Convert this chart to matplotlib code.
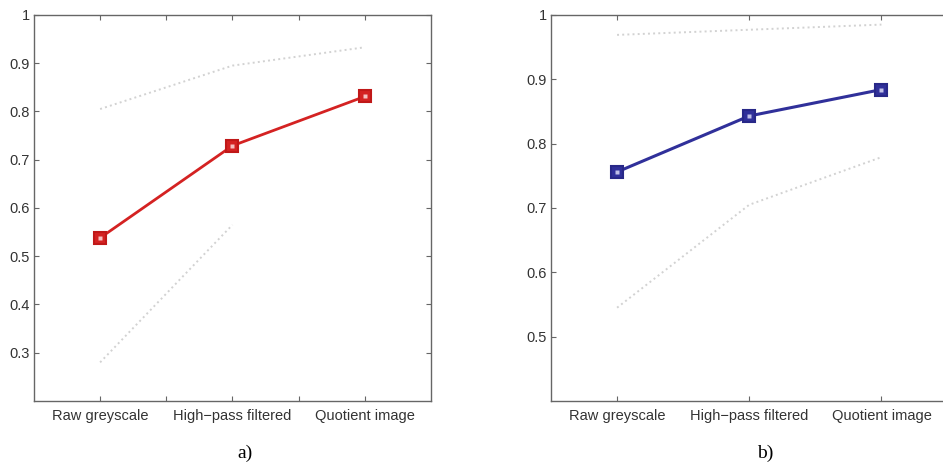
import numpy as np
import matplotlib
matplotlib.use("Agg")
import matplotlib.pyplot as plt
from matplotlib.ticker import FixedLocator

# categories and values
categories = ["Raw greyscale", "High\u2212pass filtered", "Quotient image"]

main_a = [0.538, 0.729, 0.831]
upper_a = [0.805, 0.895, 0.933]
lower_a = [0.28, 0.565, np.nan]

main_b = [0.756, 0.843, 0.884]
upper_b = [0.969, 0.977, 0.985]
lower_b = [0.545, 0.705, 0.779]

yticks_a = [0.3, 0.4, 0.5, 0.6, 0.7, 0.8, 0.9, 1.0]
yticks_b = [0.5, 0.6, 0.7, 0.8, 0.9, 1.0]

plt.rcParams["font.family"] = ["Liberation Sans", "DejaVu Sans"]

fig = plt.figure(figsize=(9.43, 4.76), dpi=100)
ax_a = fig.add_axes([0.036, 0.1576, 0.421, 0.811])
ax_b = fig.add_axes([0.5843, 0.1576, 0.4205, 0.811])

x = np.arange(1, len(categories) + 1)


def style_axes(ax, yticks, ylim, half_ticks):
    ax.set_xlim(0.5, 3.5)
    ax.set_ylim(*ylim)
    ax.set_xticks(x)
    ax.set_xticklabels(categories)
    if half_ticks:
        ax.xaxis.set_minor_locator(FixedLocator([1.5, 2.5]))
    ax.set_yticks(yticks)
    ax.set_yticklabels(["1" if v == 1.0 else f"{v:.1f}" for v in yticks])
    for s in ax.spines.values():
        s.set_color("#666666")
        s.set_linewidth(1.0)
    ax.tick_params(which="both", direction="in", top=True, right=True,
                   length=3.5, width=0.8, color="#666666",
                   labelsize=10.5, labelcolor="#333333")
    ax.tick_params(axis="x", pad=6)
    ax.tick_params(axis="y", pad=3)


faint = "#d2d2d2"

# panel a
ax_a.plot(x, upper_a, linestyle=":", color=faint, lw=1.4)
ax_a.plot(x, lower_a, linestyle=":", color=faint, lw=1.4)
ax_a.plot(x, main_a, color="#d42222", lw=2.0, marker="s", ms=8,
          mfc="#d42222", mec="#c01818", mew=1.5, zorder=3)
ax_a.plot(x, main_a, linestyle="none", marker="s", ms=2.5,
          mfc="#f4c0c0", mec="none", zorder=4)
style_axes(ax_a, yticks_a, (0.2, 1.0), True)

# panel b
ax_b.plot(x, upper_b, linestyle=":", color=faint, lw=1.4)
ax_b.plot(x, lower_b, linestyle=":", color=faint, lw=1.4)
ax_b.plot(x, main_b, color="#30309a", lw=2.2, marker="s", ms=8,
          mfc="#30309a", mec="#282888", mew=1.5, zorder=3)
ax_b.plot(x, main_b, linestyle="none", marker="s", ms=2.5,
          mfc="#c0c0e8", mec="none", zorder=4)
style_axes(ax_b, yticks_b, (0.4, 1.0), False)

fig.text(245 / 943, 1 - 453 / 476, "a)", ha="center", va="center",
         fontsize=14, family=["Liberation Serif", "DejaVu Serif"])
fig.text(765 / 943, 1 - 453 / 476, "b)", ha="center", va="center",
         fontsize=14, family=["Liberation Serif", "DejaVu Serif"])

fig.savefig("out.png", dpi=100)
